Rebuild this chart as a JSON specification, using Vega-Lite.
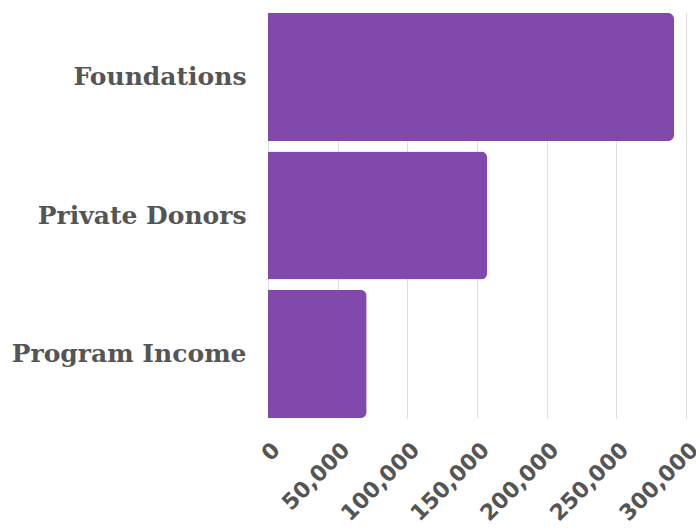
{
  "$schema": "https://vega.github.io/schema/vega-lite/v6.json",
  "autosize": {"type": "none"},
  "width": 418,
  "height": 405,
  "padding": {"left": 268, "top": 13, "right": 10, "bottom": 113},
  "background": "white",
  "config": {"view": {"stroke": null}},
  "data": {"values": [
    {"source": "Foundations", "amount": 291400},
    {"source": "Private Donors", "amount": 157200},
    {"source": "Program Income", "amount": 70800}
  ]},
  "mark": {"type": "bar", "color": "#8049ab", "cornerRadiusEnd": 6},
  "encoding": {
    "y": {
      "field": "source", "type": "nominal", "sort": null,
      "scale": {"paddingInner": 0.076, "paddingOuter": 0},
      "axis": {"title": null, "ticks": false, "domain": false, "labelPadding": 22,
        "labelFont": "DejaVu Serif", "labelFontSize": 25, "labelFontWeight": "bold", "labelColor": "#555555", "labelLimit": 300}
    },
    "x": {
      "field": "amount", "type": "quantitative",
      "scale": {"domain": [0, 300000], "nice": false},
      "axis": {"title": null, "values": [0, 50000, 100000, 150000, 200000, 250000, 300000], "format": ",d",
        "ticks": false, "domain": false, "grid": true, "gridColor": "#dddddd",
        "labelAngle": -45, "labelAlign": "right", "labelBaseline": "middle", "labelPadding": 28, "labelOffset": 8,
        "labelFont": "DejaVu Sans", "labelFontSize": 22, "labelFontWeight": "bold", "labelColor": "#555555", "labelOverlap": false, "labelBound": false, "labelFlush": false}
    }
  }
}
